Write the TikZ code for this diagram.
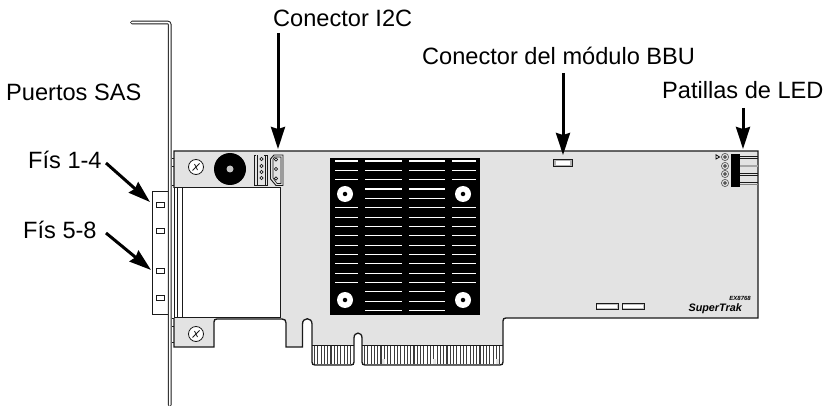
\documentclass[tikz,border=0pt]{standalone}
\usepackage{fontspec}
\setmainfont{Liberation Sans}
\usetikzlibrary{arrows.meta}
\definecolor{boardgray}{HTML}{E3E3E3}
\definecolor{dark}{HTML}{1A1A1A}
\tikzset{
  callout/.style={line width=3pt,-{Stealth[length=22pt,width=14pt,inset=2pt]},black},
  lab/.style={anchor=base west,inner sep=0pt,font=\fontsize{23.6}{28}\selectfont},
  outline/.style={draw=dark,line width=1pt},
  port/.style={draw=dark,fill=white,line width=1pt,minimum width=8pt,minimum height=5pt,inner sep=0pt},
  hole/.style={circle,draw=dark,fill=white,line width=.8pt,inner sep=0pt,minimum size=15pt},
}
\def\boardedge{(758,151) -- (758,318) -- (506,318)
  .. controls (504,318) and (503,319) .. (503,321) -- (503,362)
  .. controls (503,364) and (502,365) .. (500,365) -- (365,365)
  .. controls (363,365) and (362,364) .. (362,362) -- (362,338)
  .. controls (362,331.5) and (354,331.5) .. (354,338) -- (354,362)
  .. controls (354,364) and (353,365) .. (351,365) -- (315,365)
  .. controls (313,365) and (312,364) .. (312,362) -- (312,324)
  .. controls (312,317) and (302.5,317) .. (302.5,324) -- (302.5,347) -- (286,347) -- (286,323)
  .. controls (286,320.5) and (285,319) .. (282,319) -- (217,319)
  .. controls (215,319) and (214,320) .. (214,322) -- (214,347) -- (174,347)}
\begin{document}
\begin{tikzpicture}[x=1pt,y=-1pt]
\useasboundingbox (0,0) rectangle (830,406);
% board
\path[fill=boardgray] (174,151) -- \boardedge -- cycle;
% edge fingers
\fill[white] (312.5,345.5) rectangle (353.5,364);
\fill[white] (362.5,345.5) rectangle (502.5,364);
\foreach \x in {314.5,317.8,...,353} \draw[dark!85,line width=1.1pt] (\x,345.5) -- (\x,364);
\foreach \x in {364.5,367.8,...,502} \draw[dark!85,line width=1.1pt] (\x,345.5) -- (\x,364);
\foreach \x in {383,434,497} \fill[boardgray] (\x-1.5,359) rectangle (\x+1.5,364);
\draw[dark,line width=.7pt] (312,345.5) -- (354,345.5) (362,345.5) -- (503,345.5);
\draw[outline,line width=1.3pt] (174,188) -- (174,151) -- \boardedge -- (174,318);
% SAS connector box
\draw[outline,fill=white] (174,188) rectangle (280,317);
\draw[draw=dark,line width=.7pt] (177,188) -- (177,317) (182,188) -- (182,317);
\draw[outline,line width=.8pt] (172,158) -- (174,158) (172,166) -- (174,166) (172,185) -- (174,185);
\draw[outline,line width=.8pt] (172,318) -- (174,318) (172,326) -- (174,326) (172,342) -- (174,342);
% port shield
\draw[outline,fill=white] (168,192) -- (152,192) -- (152,314) -- (168,314);
\foreach \y/\n in {205/a,231/b,271/c,298/d}
  \node[port] (port\n) at (160,\y) {};
% bracket
\draw[draw=dark,line width=3.6pt,line cap=round,rounded corners=2pt] (132,22.5) -- (169.7,22.5) -- (169.7,405);
\draw[draw=white,line width=1.6pt,line cap=round,rounded corners=2pt] (132,22.5) -- (169.7,22.5) -- (169.7,405);
% screws
\foreach \x/\y/\n in {196/167/a,196/334/b}{
  \node[hole] (screw\n) at (\x,\y) {};
  \draw[dark,line width=.8pt] (\x-3.5,\y+3.5) -- (\x+3.5,\y-3.5) (\x-1.5,\y-3) -- (\x+1.5,\y+3);
}
% capacitor
\node[circle,fill=black,inner sep=0pt,minimum size=32pt] (cap) at (230,169) {};
\node[circle,fill=boardgray!70!gray,inner sep=0pt,minimum size=7pt] (capc) at (230,169) {};
% I2C connectors
\draw[dark,line width=.9pt] (256,155) -- (254.5,155) -- (254.5,185.5) -- (267.5,185.5) -- (267.5,155) -- (264,155);
\draw[dark,line width=.8pt] (257,155.5) -- (257,185) (265.5,155.5) -- (265.5,185);
\foreach \y in {159,166,172,178} \draw[dark,line width=.7pt,fill=white] (261.5,\y) circle[radius=1.6];
\draw[dark,line width=.9pt] (270.5,159) -- (274,155) -- (283,155) -- (283,185.5) -- (276,185.5) -- (270.5,179) -- cycle;
\draw[dark,line width=.6pt] (273,159) -- (274.5,157) -- (281,157) -- (281,183.5) -- (277,183.5) -- (273,178) -- cycle;
\foreach \y in {159.5,169,178.5} \draw[dark,line width=.7pt,fill=white] (276,\y) circle[radius=1.6];
% heat sink
\fill[black] (330,158) rectangle (480,315);
\foreach \i in {0,...,16}{
  \pgfmathsetmacro{\yy}{161+9.35*\i}
  \draw[white,line width=1.1pt] (365,\yy) -- (402,\yy) (409,\yy) -- (445,\yy);
  \ifnum\i=3\else\ifnum\i=4\else\ifnum\i>13\else
    \draw[white,line width=1.1pt] (335,\yy) -- (358,\yy) (452,\yy) -- (476,\yy);
  \fi\fi\fi
}
\foreach \x/\y/\n in {345/194/a,463/194/b,345/300/c,463/300/d}{
  \node[circle,fill=white,inner sep=0pt,minimum size=16pt] (post\n) at (\x,\y) {};
  \node[circle,fill=black,inner sep=0pt,minimum size=4.5pt] (postc\n) at (\x,\y) {};
}
% BBU connector
\draw[dark,line width=1pt,fill=gray!60] (553.5,159.5) rectangle (572.5,167);
\fill[white] (556,161.5) rectangle (570,165);
% LED pins
\draw[dark,line width=.8pt] (740,156.8) -- (758,156.8) (740,158.8) -- (758,158.8);
\draw[gray!70,line width=2.5pt] (740,166) -- (758,166);
\draw[dark,line width=.8pt] (740,173.5) -- (758,173.5) (740,175.5) -- (758,175.5);
\draw[dark,line width=.8pt] (740,182) -- (758,182); \draw[gray,line width=.8pt] (740,184) -- (758,184);
\foreach \y in {157,166,174,183}{
  \draw[dark!70,line width=.7pt,fill=boardgray] (725,\y) circle[radius=3.6];
  \draw[dark,line width=.7pt,fill=white] (725,\y) circle[radius=1.4];
}
\draw[black,line width=.8pt,fill=white] (716,154.8) -- (719.5,157) -- (716,159) -- cycle;
\fill[black] (731,154) rectangle (740,187);
% small connectors
\foreach \a/\b in {596/618,622/644}{
  \draw[dark,line width=.8pt,fill=gray!50] (\a,303) rectangle (\b,309);
  \fill[white] (\a+1,304.5) rectangle (\b-1,307.5);
}
% brand
\node[anchor=base east,inner sep=0pt,font=\fontsize{10.8}{12}\selectfont\bfseries\itshape] (brand) at (742,311) {SuperTrak};
\node[anchor=base east,inner sep=0pt,font=\fontsize{6}{7}\selectfont\bfseries\itshape] (model) at (751,300) {EX8768};
% labels
\node[lab] (l1) at (273,27) {Conector I2C};
\node[lab] (l2) at (422,65) {Conector del módulo BBU};
\node[lab] (l3) at (662,99) {Patillas de LED};
\node[lab] (l4) at (6,101) {Puertos SAS};
\node[lab] (l5) at (28,169) {Fís 1-4};
\node[lab] (l6) at (23,239) {Fís 5-8};
% callouts
\coordinate (a1s) at (278,33); \coordinate (a1e) at (278,149);
\coordinate (a2s) at (563,73); \coordinate (a2e) at (563,155);
\coordinate (a3s) at (743,108); \coordinate (a3e) at (743,149);
\coordinate (a4s) at (106,163); \coordinate (a4e) at (150,202);
\coordinate (a5s) at (106,233); \coordinate (a5e) at (151,270);
\draw[callout] (a1s) -- (a1e);
\draw[callout] (a2s) -- (a2e);
\draw[callout] (a3s) -- (a3e);
\draw[callout] (a4s) -- (a4e);
\draw[callout] (a5s) -- (a5e);
\end{tikzpicture}
\end{document}
